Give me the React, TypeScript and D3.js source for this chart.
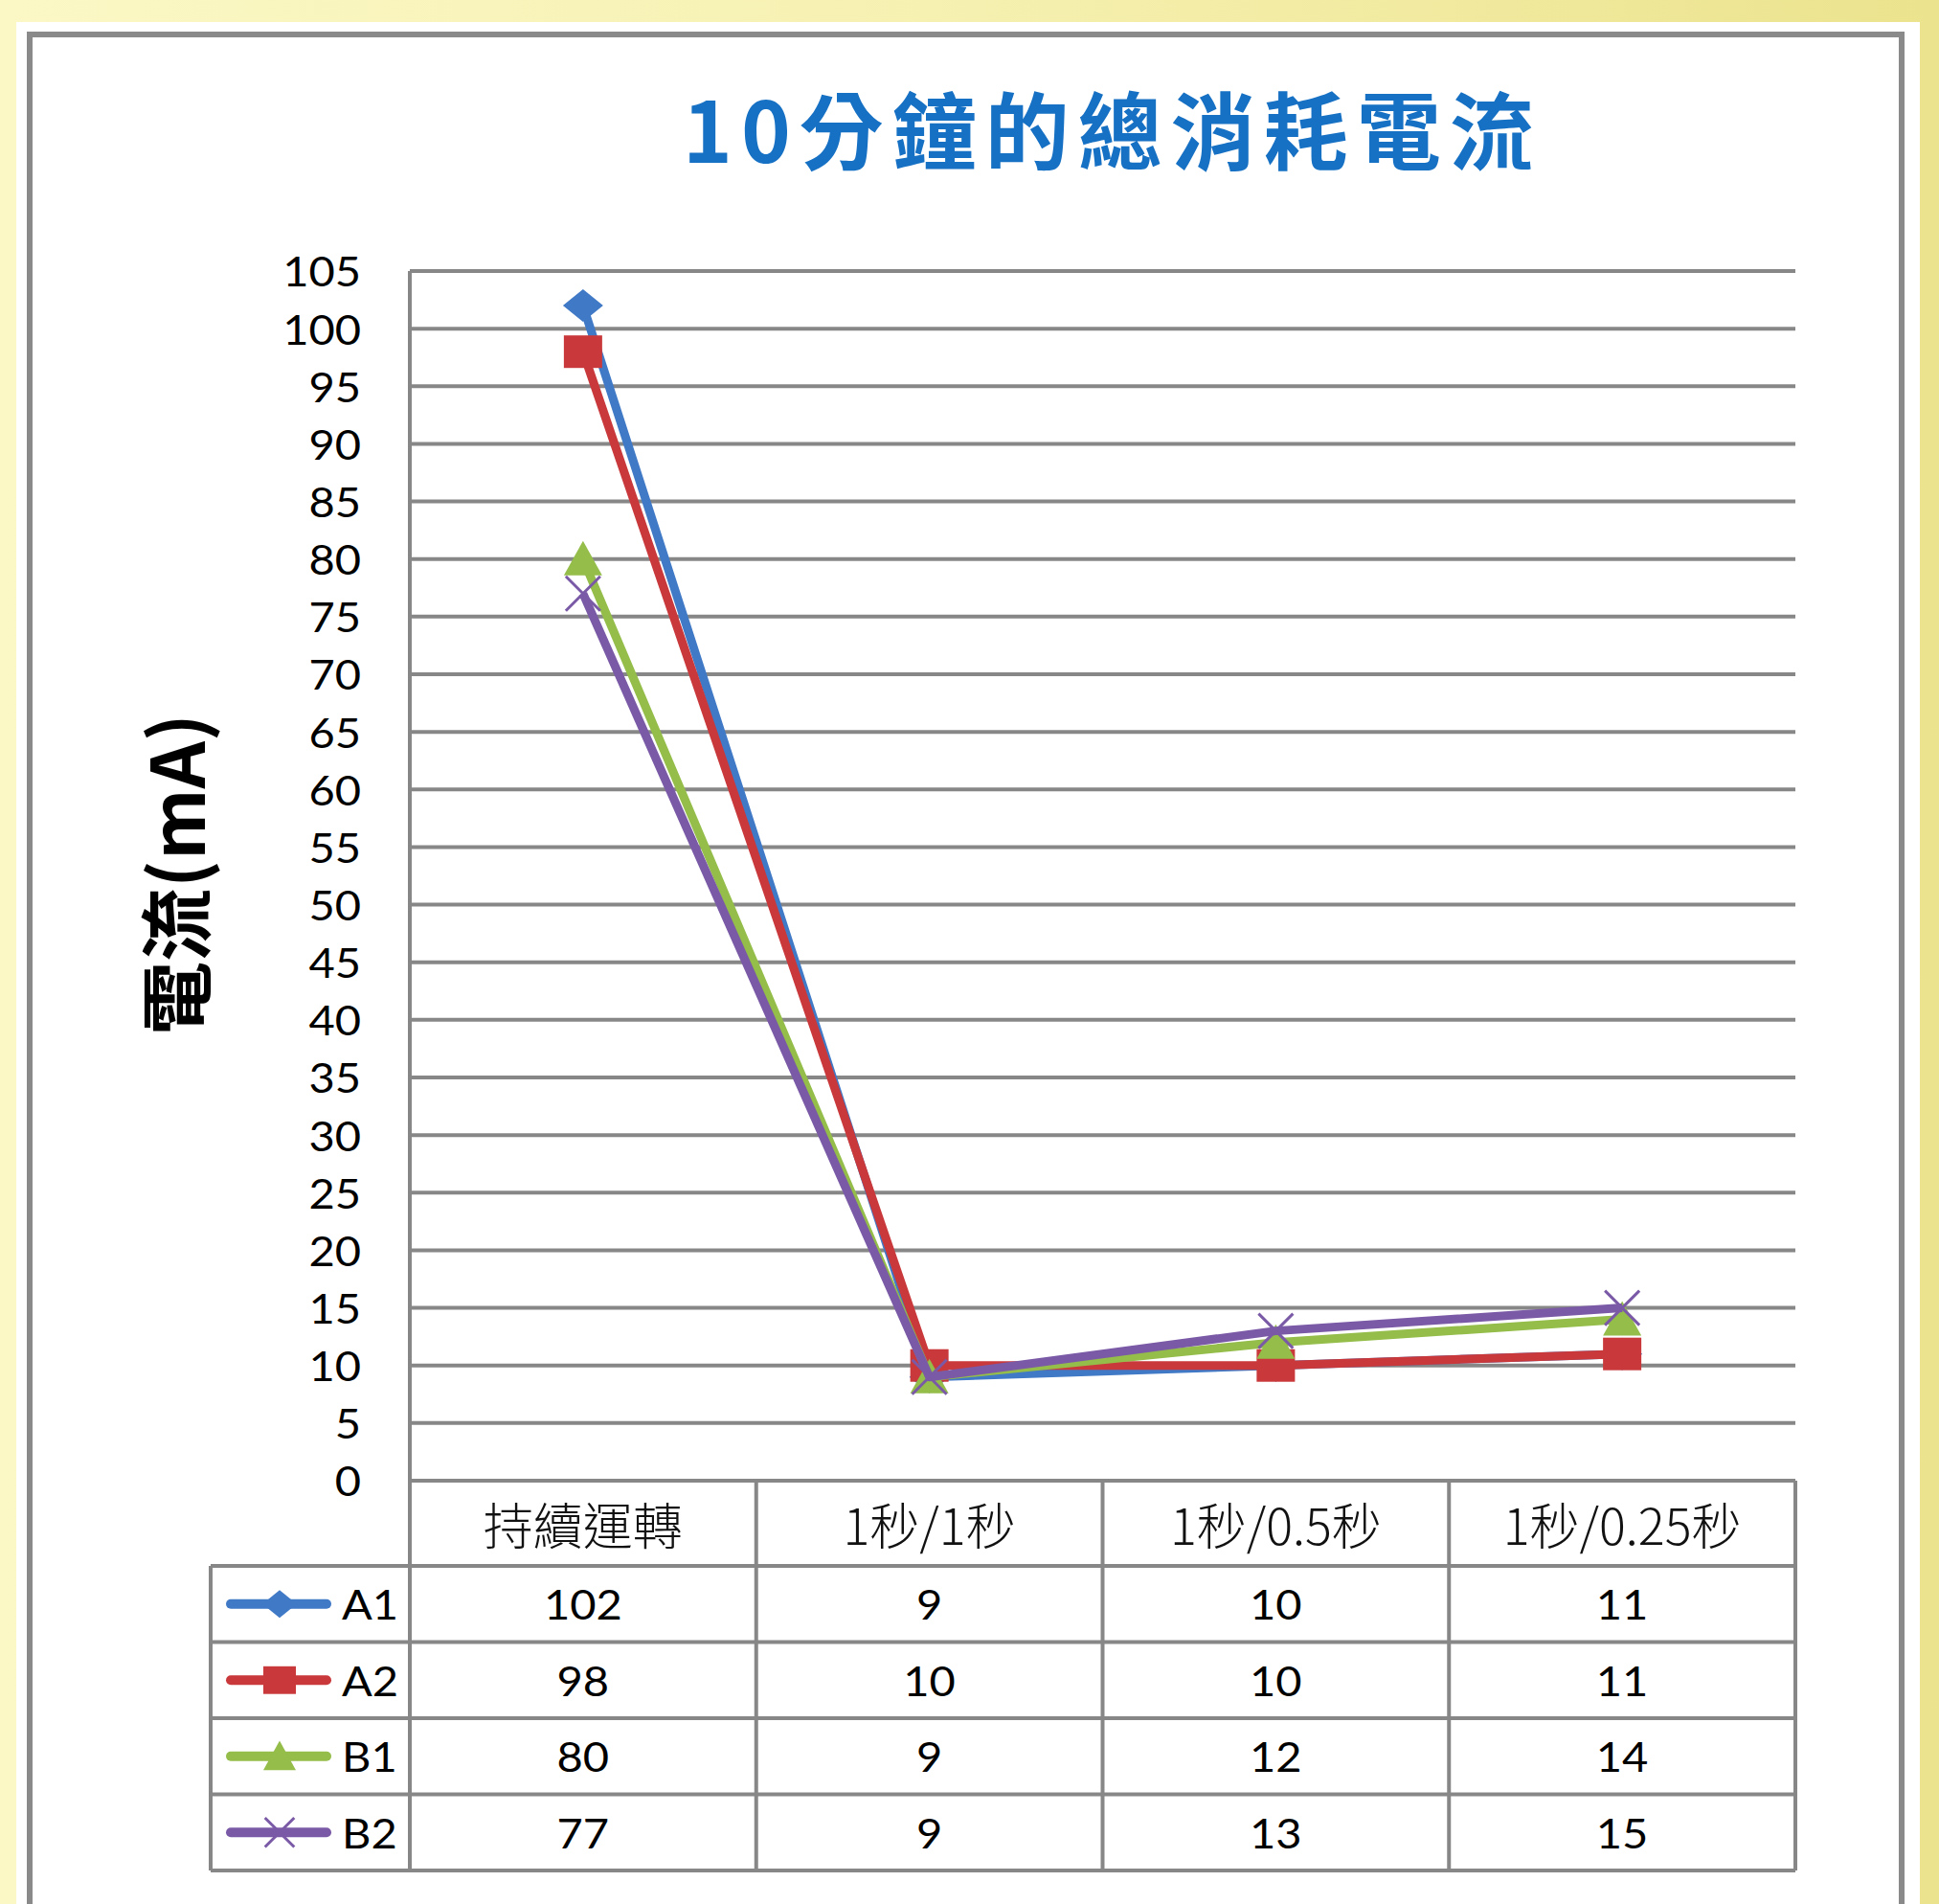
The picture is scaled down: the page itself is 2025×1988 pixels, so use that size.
import React from 'react';
import * as d3 from 'd3';

// Categories (x axis) and series values in mA
const categories = ['持續運轉', '1秒/1秒', '1秒/0.5秒', '1秒/0.25秒'];
const seriesNames = ['A1', 'A2', 'B1', 'B2'];
const valuesA1 = [102, 9, 10, 11];
const valuesA2 = [98, 10, 10, 11];
const valuesB1 = [80, 9, 12, 14];
const valuesB2 = [77, 9, 13, 15];
const seriesColors = ['#4079c6', '#c9393b', '#94bd4a', '#7a5aa6'];
const seriesMarkers = ['diamond', 'square', 'triangle', 'cross'];
const yTicks = d3.range(0, 106, 5);

const titleText = '10分鐘的總消耗電流';
const yAxisTitle = '電流(mA)';

const W = 2025;
const H = 1988;
const plot = { left: 428, right: 1875, top: 283, bottom: 1546 };
const tableLeft = 220;
const headerBottom = 1635;
const rowH = 79.5;
const gridColor = '#878787';

const series = [valuesA1, valuesA2, valuesB1, valuesB2].map((values, i) => ({
  name: seriesNames[i],
  values,
  color: seriesColors[i],
  marker: seriesMarkers[i],
}));

const numFont = 'Lato, "Open Sans", sans-serif';
const cjkFont = '"Noto Sans CJK TC", "Noto Sans CJK SC", sans-serif';

// Latin label set slightly wide, like the chart's Calibri-style numerals
function NumText({ x, y, anchor = 'middle', children }: { x: number; y: number; anchor?: string; children: React.ReactNode }) {
  return (
    <g transform={`translate(${x},${y}) scale(1.12,1)`}>
      <text x={0} y={0} textAnchor={anchor} dominantBaseline="central" fontFamily={numFont} fontSize={42} fill="#000">
        {children}
      </text>
    </g>
  );
}

function Marker({ kind, cx, cy, color, s = 1 }: { kind: string; cx: number; cy: number; color: string; s?: number }) {
  if (kind === 'diamond') {
    const w = 21 * s, h = 17 * s;
    return <path d={`M${cx},${cy - h}L${cx + w},${cy}L${cx},${cy + h}L${cx - w},${cy}Z`} fill={color} />;
  }
  if (kind === 'square') {
    const w = 20 * s, h = 17 * s;
    return <rect x={cx - w} y={cy - h} width={2 * w} height={2 * h} fill={color} />;
  }
  if (kind === 'triangle') {
    const w = 20 * s, h = 17 * s;
    return <path d={`M${cx},${cy - h - 2 * s}L${cx + w},${cy + h}L${cx - w},${cy + h}Z`} fill={color} />;
  }
  const r = 18 * s;
  return (
    <g stroke={color} strokeWidth={3}>
      <line x1={cx - r} y1={cy - r} x2={cx + r} y2={cy + r} />
      <line x1={cx - r} y1={cy + r} x2={cx + r} y2={cy - r} />
    </g>
  );
}

export default function App() {
  const x = d3.scaleBand<string>().domain(categories).range([plot.left, plot.right]).padding(0);
  const y = d3.scaleLinear().domain([0, 105]).range([plot.bottom, plot.top]);
  const cx = (c: string) => (x(c) as number) + x.bandwidth() / 2;

  const line = d3
    .line<number>()
    .x((_, i) => cx(categories[i]))
    .y((v) => y(v));

  const rowTop = (i: number) => headerBottom + i * rowH;
  const tableBottom = rowTop(series.length);
  const colEdges = categories.map((c) => x(c) as number).concat([plot.right]);

  return (
    <svg width={W} height={H} style={{ position: 'absolute', left: 0, top: 0 }}>
      <defs>
        <linearGradient id="bgGrad" x1="0" y1="0" x2="1" y2="0">
          <stop offset="0" stopColor="#fbf8c6" />
          <stop offset="0.5" stopColor="#f6f0b0" />
          <stop offset="1" stopColor="#ebe38d" />
        </linearGradient>
      </defs>
      <rect x={0} y={0} width={W} height={H} fill="url(#bgGrad)" />
      <rect x={17} y={23} width={1988} height={H} fill="#ffffff" />
      <rect x={31} y={36} width={1955} height={H} fill="#ffffff" stroke="#8a8a8a" strokeWidth={6} />

      {/* title */}
      <text
        x={713}
        y={131}
        dominantBaseline="central"
        fontFamily={cjkFont}
        fontWeight={700}
        fontSize={88}
        letterSpacing={9}
        fill="#1670c3"
      >
        {titleText}
      </text>

      {/* y-axis title */}
      <text
        transform="translate(180,913) rotate(-90)"
        textAnchor="middle"
        dominantBaseline="central"
        fontFamily={cjkFont}
        fontWeight={700}
        fontSize={77}
        fill="#000"
      >
        {yAxisTitle}
      </text>

      {/* gridlines and tick labels */}
      {yTicks.map((t) => (
        <g key={t}>
          <line x1={plot.left} x2={plot.right} y1={y(t)} y2={y(t)} stroke={gridColor} strokeWidth={4} />
          <NumText x={377} y={y(t)} anchor="end">
            {t}
          </NumText>
        </g>
      ))}

      {/* data table */}
      <g stroke={gridColor} strokeWidth={4} fill="none">
        <line x1={plot.left} x2={plot.left} y1={plot.top} y2={tableBottom} />
        {colEdges.slice(1).map((e, i) => (
          <line key={i} x1={e} x2={e} y1={plot.bottom} y2={tableBottom} />
        ))}
        <line x1={tableLeft} x2={tableLeft} y1={headerBottom} y2={tableBottom} />
        {series.map((_, i) => (
          <line key={i} x1={tableLeft} x2={plot.right} y1={rowTop(i)} y2={rowTop(i)} />
        ))}
        <line x1={tableLeft} x2={plot.right} y1={tableBottom} y2={tableBottom} />
      </g>

      {categories.map((c) => (
        <text
          key={c}
          x={cx(c)}
          y={(plot.bottom + headerBottom) / 2}
          textAnchor="middle"
          dominantBaseline="central"
          fontFamily={cjkFont}
          fontWeight={300}
          fontSize={52}
          fill="#111"
        >
          {c}
        </text>
      ))}

      {series.map((s, i) => {
        const mid = rowTop(i) + rowH / 2;
        return (
          <g key={s.name}>
            <line x1={241} x2={341} y1={mid} y2={mid} stroke={s.color} strokeWidth={10} strokeLinecap="round" />
            <Marker kind={s.marker} cx={292} cy={mid} color={s.color} s={0.85} />
            <NumText x={357} y={mid} anchor="start">
              {s.name}
            </NumText>
            {s.values.map((v, j) => (
              <NumText key={j} x={cx(categories[j])} y={mid}>
                {v}
              </NumText>
            ))}
          </g>
        );
      })}

      {/* series lines and markers */}
      {series.map((s) => (
        <g key={s.name}>
          <path d={line(s.values) || ''} fill="none" stroke={s.color} strokeWidth={9} strokeLinejoin="round" />
          {s.values.map((v, j) => (
            <Marker key={j} kind={s.marker} cx={cx(categories[j])} cy={y(v)} color={s.color} />
          ))}
        </g>
      ))}
    </svg>
  );
}
